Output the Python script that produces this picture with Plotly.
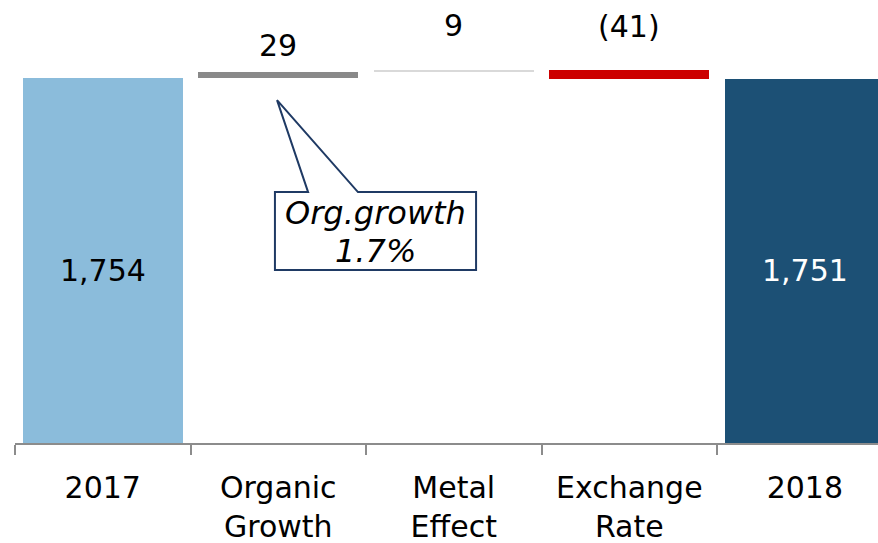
import plotly.graph_objects as go

categories = ["2017", "Organic<br>Growth", "Metal<br>Effect", "Exchange<br>Rate", "2018"]
measures = ["absolute", "relative", "relative", "relative", "total"]
values = [1754, 29, 9, -41, 1751]
bar_colors = ["#8BBCDB", "#898989", "#D9D9D9", "#CC0000", "#1C5075"]
label_colors = ["black", "black", "black", "black", "white"]
callout_lines = ["Org.growth", "1.7%"]

# compute bases / heights from values
bases, heights, tops = [], [], []
running = 0
for m, v in zip(measures, values):
    if m in ("absolute", "total"):
        bases.append(0)
        heights.append(v)
        running = v
        tops.append(v)
    else:
        lo = min(running, running + v)
        bases.append(lo)
        heights.append(abs(v))
        running += v
        tops.append(lo + abs(v))

def fmt(v, m):
    if m == "relative" and v < 0:
        return "({:,})".format(abs(v))
    return "{:,}".format(v)

FONT = "DejaVu Sans"
fig = go.Figure()
fig.add_trace(go.Bar(
    x=categories, y=heights, base=bases,
    marker=dict(color=bar_colors, line=dict(width=0)),
    width=0.91, hoverinfo="skip",
))

annotations = []
shifts = {1: 7, 2: 25, 3: 24}
for i, (m, v) in enumerate(zip(measures, values)):
    if m == "relative":
        annotations.append(dict(x=i, y=tops[i], xref="x", yref="y", text=fmt(v, m),
                                showarrow=False, yanchor="bottom", yshift=shifts[i],
                                font=dict(family=FONT, size=30, color=label_colors[i])))
    else:
        annotations.append(dict(x=i, y=v / 2, xref="x", yref="y", text=fmt(v, m),
                                showarrow=False, yanchor="middle", yshift=-10,
                                font=dict(family=FONT, size=30, color=label_colors[i])))

# callout box near organic growth
bx0, bx1, by0, by1 = 0.981, 2.127, 831, 1206
tipx, tipy = 0.993, 1648
pl, pr = 1.170, 1.454
path = (f"M {pl},{by1} L {tipx},{tipy} L {pr},{by1} L {bx1},{by1} L {bx1},{by0} "
        f"L {bx0},{by0} L {bx0},{by1} Z")
shapes = [dict(type="path", path=path, xref="x", yref="y",
               line=dict(color="#1F3A64", width=2), fillcolor="white", layer="above")]
for txt, yy in zip(callout_lines, [1105, 925]):
    annotations.append(dict(x=(bx0 + bx1) / 2, y=yy, xref="x", yref="y",
                            text=f"<i>{txt}</i>", showarrow=False,
                            font=dict(family=FONT, size=32, color="black")))

fig.update_layout(
    width=878, height=543,
    margin=dict(l=15, r=0, t=0, b=100),
    paper_bgcolor="white", plot_bgcolor="white",
    showlegend=False, bargap=0,
    shapes=shapes, annotations=annotations,
    xaxis=dict(
        type="category", tickson="boundaries",
        range=[-0.5, 4.417], showgrid=False, zeroline=False,
        showline=True, linecolor="#8C8C8C", linewidth=1.5,
        ticks="outside", ticklen=10, tickcolor="#8C8C8C", tickwidth=1.5,
        ticklabelstandoff=17,
        tickfont=dict(family=FONT, size=30, color="black"),
    ),
    yaxis=dict(range=[0, 2129], visible=False, showgrid=False, zeroline=False),
)

fig.write_html("out.html", config={"displayModeBar": False},
               post_script="document.body.style.margin='0';")
